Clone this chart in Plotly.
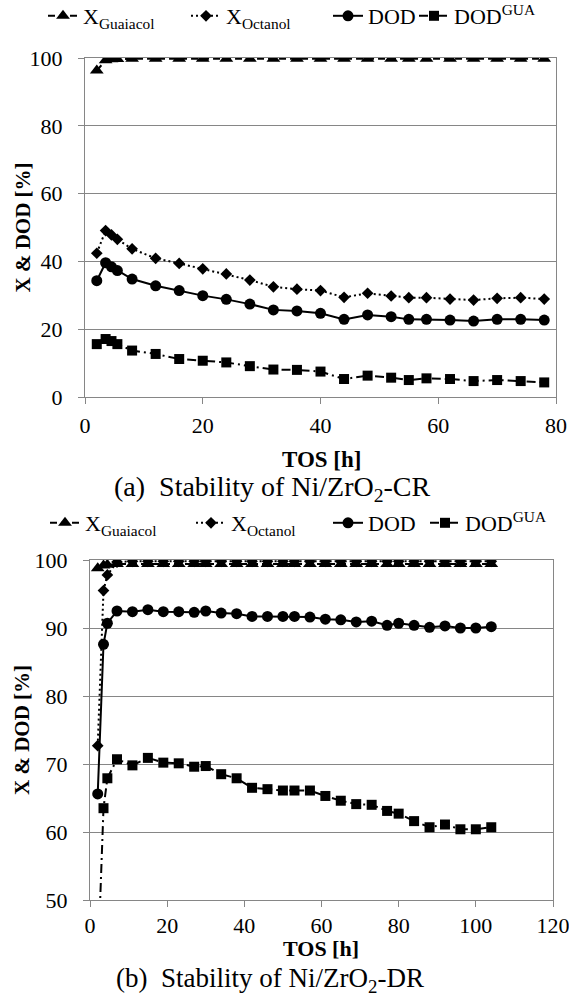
import plotly.graph_objects as go

# ---------------- data ----------------
# Panel (a): Ni/ZrO2-CR
tos_a = [2, 3.5, 4.5, 5.5, 8, 12, 16, 20, 24, 28, 32, 36, 40, 44, 48, 52, 55, 58, 62, 66, 70, 74, 78]
x_guaiacol_a = [96.3, 99.3, 99.6, 99.7, 99.8, 99.8, 99.8, 99.8, 99.8, 99.8, 99.8, 99.8, 99.8,
                99.8, 99.8, 99.8, 99.8, 99.8, 99.8, 99.8, 99.8, 99.8, 99.8]
x_octanol_a = [42.4, 49.1, 47.8, 46.5, 43.7, 40.9, 39.4, 37.8, 36.3, 34.5, 32.5, 31.8, 31.4,
               29.4, 30.6, 29.8, 29.3, 29.3, 28.9, 28.6, 29.1, 29.3, 28.9]
dod_a = [34.3, 39.6, 38.4, 37.3, 34.8, 32.8, 31.4, 29.9, 28.8, 27.4, 25.7, 25.4, 24.7,
         22.9, 24.2, 23.7, 22.9, 22.9, 22.7, 22.4, 22.9, 22.9, 22.7]
dod_gua_a = [15.6, 17.1, 16.5, 15.6, 13.7, 12.7, 11.2, 10.7, 10.2, 9.1, 8.1, 8.0, 7.5,
             5.3, 6.3, 5.7, 5.0, 5.5, 5.3, 4.7, 5.0, 4.7, 4.3]

# Panel (b): Ni/ZrO2-DR
tos_b = [2, 3.5, 4.5, 7, 11, 15, 19, 23, 27, 30, 34, 38, 42, 46, 50, 53, 57, 61, 65, 69, 73,
         77, 80, 84, 88, 92, 96, 100, 104]
x_guaiacol_b = [98.8, 99.2, 99.3, 99.4, 99.4, 99.4, 99.4, 99.4, 99.4, 99.4, 99.4, 99.4, 99.4,
                99.4, 99.4, 99.4, 99.4, 99.4, 99.4, 99.4, 99.4, 99.4, 99.4, 99.4, 99.4, 99.4,
                99.4, 99.4, 99.4]
x_octanol_b = [72.7, 95.5, 97.8, 99.7, 99.8, 99.8, 99.8, 99.8, 99.8, 99.8, 99.8, 99.8, 99.8,
               99.8, 99.8, 99.8, 99.8, 99.8, 99.8, 99.8, 99.8, 99.8, 99.8, 99.8, 99.8, 99.8,
               99.8, 99.8, 99.8]
dod_b = [65.6, 87.6, 90.7, 92.5, 92.4, 92.7, 92.4, 92.4, 92.3, 92.5, 92.2, 92.1, 91.7, 91.7,
         91.7, 91.7, 91.6, 91.3, 91.2, 90.9, 91.0, 90.4, 90.7, 90.4, 90.1, 90.3, 90.0, 90.0, 90.2]
dod_gua_b = [40.0, 63.5, 67.9, 70.7, 69.8, 70.9, 70.2, 70.1, 69.6, 69.7, 68.5, 67.9, 66.5, 66.3,
             66.1, 66.1, 66.1, 65.3, 64.6, 64.1, 64.0, 63.1, 62.7, 61.6, 60.7, 61.1, 60.4, 60.4, 60.7]

series_names = ["X<sub>Guaiacol</sub>", "X<sub>Octanol</sub>", "DOD", "DOD<sup>GUA</sup>"]
x_ticks_a = [0, 20, 40, 60, 80]
y_ticks_a = [0, 20, 40, 60, 80, 100]
x_ticks_b = [0, 20, 40, 60, 80, 100, 120]
y_ticks_b = [50, 60, 70, 80, 90, 100]
captions = ["(a)\u00a0\u00a0Stability of Ni/ZrO<sub>2</sub>-CR",
            "(b)\u00a0\u00a0Stability of Ni/ZrO<sub>2</sub>-DR"]

# ---------------- layout helpers ----------------
W, H = 569, 997
FONT = "Liberation Serif, 'Times New Roman', Times, serif"
GRID = "#868686"


def px(p):          # window pixel x -> paper fraction
    return p / W


def py(p):          # window pixel y -> paper fraction
    return 1 - p / H


styles = [
    dict(symbol="triangle-up", size=12, dash="7px,4px"),
    dict(symbol="diamond", size=9, dash="2px,3px"),
    dict(symbol="circle", size=11, dash="solid"),
    dict(symbol="square", size=10, dash="9px,4px,2px,4px"),
]

fig = go.Figure()

panels = [
    dict(t=tos_a, ys=[x_guaiacol_a, x_octanol_a, dod_a, dod_gua_a], xa="x", ya="y", leg0=1),
    dict(t=tos_b, ys=[x_guaiacol_b, x_octanol_b, dod_b, dod_gua_b], xa="x2", ya="y2", leg0=5),
]

for p in panels:
    for i, (name, y, st) in enumerate(zip(series_names, p["ys"], styles)):
        ln = p["leg0"] + i
        fig.add_trace(go.Scatter(
            x=p["t"], y=y, name=name, mode="lines+markers",
            xaxis=p["xa"], yaxis=p["ya"],
            line=dict(color="black", width=2, dash=st["dash"]),
            marker=dict(symbol=st["symbol"], size=st["size"], color="black"),
            legend="legend" if ln == 1 else f"legend{ln}",
            showlegend=True,
        ))

axis_common = dict(
    zeroline=False, showline=True, linecolor=GRID, linewidth=1, automargin=False,
    mirror=True, ticks="outside", ticklen=6, tickcolor=GRID, tickwidth=1,
    ticklabeloverflow="allow",
    tickfont=dict(family=FONT, size=22, color="black"),
)

layout = dict(
    width=W, height=H, autosize=False,
    margin=dict(l=0, r=0, t=0, b=0, pad=0, autoexpand=False),
    paper_bgcolor="white", plot_bgcolor="white",
    font=dict(family=FONT, color="black", size=21),
    xaxis=dict(domain=[px(85), px(556)], range=[0, 80], tickvals=x_ticks_a, anchor="y",
               showgrid=False, ticklabelstandoff=3, **axis_common),
    yaxis=dict(domain=[py(397), py(58)], range=[0, 100], tickvals=y_ticks_a, anchor="x",
               showgrid=True, gridcolor=GRID, gridwidth=1, ticklabelstandoff=11, **axis_common),
    xaxis2=dict(domain=[px(90), px(553)], range=[0, 120], tickvals=x_ticks_b, anchor="y2",
                showgrid=False, ticklabelstandoff=0, **axis_common),
    yaxis2=dict(domain=[py(900), py(560)], range=[50, 100], tickvals=y_ticks_b, anchor="x2",
                showgrid=True, gridcolor=GRID, gridwidth=1, ticklabelstandoff=11, **axis_common),
)

# legends: one per entry so the spacing can follow the original
leg_x_a = [43, 186, 328, 414]
leg_x_b = [45, 191, 328, 425]
for i in range(8):
    key = "legend" if i == 0 else f"legend{i + 1}"
    xs = leg_x_a if i < 4 else leg_x_b
    yc = 16 if i < 4 else 523
    layout[key] = dict(
        orientation="h", x=px(xs[i % 4]), xanchor="left", y=py(yc), yanchor="middle",
        bgcolor="rgba(0,0,0,0)", font=dict(family=FONT, size=22, color="black"),
        itemwidth=30, borderwidth=0,
    )

annotations = [
    dict(text="<b>X & DOD [%]</b>", x=px(22), y=py(227.5), textangle=-90, size=21),
    dict(text="<b>X & DOD [%]</b>", x=px(22), y=py(730), textangle=-90, size=21),
    dict(text="<b>TOS [h]</b>", x=px(321), y=py(460), size=23),
    dict(text="<b>TOS [h]</b>", x=px(321), y=py(948), size=22),
    dict(text=captions[0], x=px(272), y=py(488), size=28),
    dict(text=captions[1], x=px(270), y=py(980), size=27),
]
for a in annotations:
    s = a.pop("size")
    a.update(xref="paper", yref="paper", showarrow=False, xanchor="center", yanchor="middle",
             font=dict(family=FONT, size=s, color="black"))
layout["annotations"] = annotations

fig.update_layout(**layout)
# remove the page's default 8px body margin so the figure fills the window exactly
fig.write_html(
    "out.html",
    config={"displayModeBar": False},
    post_script="document.body.style.margin='0px';document.body.style.overflow='hidden';"
                "document.documentElement.style.overflow='hidden';",
)
